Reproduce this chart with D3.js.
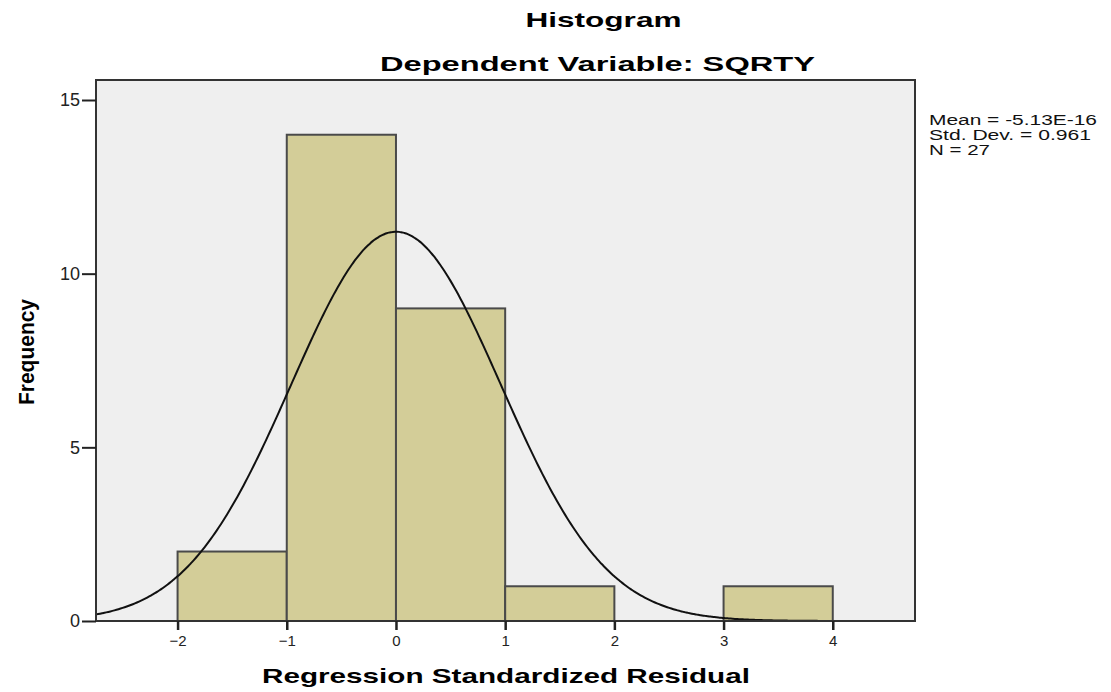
<!DOCTYPE html>
<html>
<head>
<meta charset="utf-8">
<script src="https://cdn.jsdelivr.net/npm/d3@7"></script>
<style>
  body { margin: 0; background: #fff; }
  svg { display: block; }
  text { font-family: "Liberation Sans", Arial, sans-serif; }
</style>
</head>
<body>
<svg id="chart" width="1111" height="692"></svg>
<script>
// ---- data ----
const binStarts = [-2, -1, 0, 1, 2, 3];
const binEnds   = [-1, 0, 1, 2, 3, 4];
const frequencies = [2, 14, 9, 1, 0, 1];
const xTicks = [-2, -1, 0, 1, 2, 3, 4];
const yTicks = [0, 5, 10, 15];
const statMean = -5.13e-16;
const statSD = 0.961;
const statN = 27;
const statLines = ["Mean = -5.13E-16", "Std. Dev. = 0.961", "N = 27"];
const titleText = "Histogram";
const subtitleText = "Dependent Variable: SQRTY";
const xLabel = "Regression Standardized Residual";
const yLabel = "Frequency";

// ---- layout ----
const svg = d3.select("#chart");
const pLeft = 96, pRight = 915, pTop = 80, pBottom = 621;

const x = d3.scaleLinear().domain([-2.747, 4.753]).range([pLeft, pRight]);
const y = d3.scaleLinear().domain([0, 15]).range([pBottom, 100]);

// plot background
svg.append("rect")
  .attr("x", pLeft).attr("y", pTop)
  .attr("width", pRight - pLeft).attr("height", pBottom - pTop)
  .attr("fill", "#efefef");

// bars
const bins = binStarts.map((s, i) => ({ x0: s, x1: binEnds[i], f: frequencies[i] }))
  .filter(d => d.f > 0);
svg.append("g").selectAll("rect").data(bins).join("rect")
  .attr("x", d => x(d.x0))
  .attr("y", d => y(d.f))
  .attr("width", d => x(d.x1) - x(d.x0))
  .attr("height", d => y(0) - y(d.f))
  .attr("fill", "#d3cd98")
  .attr("stroke", "#4a4a4a")
  .attr("stroke-width", 2);

// normal curve (from displayed statistics)
const binWidth = 1;
const xs = d3.range(0, 401).map(i => -2.747 + i * (7.5 / 400));
const curve = xs.map(v => [v, statN * binWidth / (statSD * Math.sqrt(2 * Math.PI)) *
  Math.exp(-0.5 * Math.pow((v - statMean) / statSD, 2))]);
svg.append("path")
  .datum(curve)
  .attr("d", d3.line().x(d => x(d[0])).y(d => y(d[1])).curve(d3.curveBasis))
  .attr("fill", "none")
  .attr("stroke", "#111")
  .attr("stroke-width", 2);

// frame
svg.append("rect")
  .attr("x", pLeft).attr("y", pTop)
  .attr("width", pRight - pLeft).attr("height", pBottom - pTop)
  .attr("fill", "none")
  .attr("stroke", "#333").attr("stroke-width", 2);

// y axis
const yAxis = d3.axisLeft(y).tickValues(yTicks).tickSize(14).tickPadding(2);
const gy = svg.append("g").attr("transform", `translate(${pLeft},0)`).call(yAxis);
gy.select(".domain").remove();
gy.selectAll("line").attr("stroke", "#222").attr("stroke-width", 2);
gy.selectAll("text").attr("font-size", 18).attr("fill", "#222")
  .style("font-family", '"Liberation Sans", Arial, sans-serif');

// x axis
const xAxis = d3.axisBottom(x).tickValues(xTicks).tickSize(9).tickPadding(5);
const gx = svg.append("g").attr("transform", `translate(0,${pBottom})`).call(xAxis);
gx.select(".domain").remove();
gx.selectAll("line").attr("stroke", "#222").attr("stroke-width", 2.5);
gx.selectAll("text").attr("font-size", 15).attr("fill", "#222")
  .style("font-family", '"Liberation Sans", Arial, sans-serif');

// titles
svg.append("text").attr("x", 603.5).attr("y", 27)
  .attr("text-anchor", "middle").attr("font-size", 21).attr("font-weight", "bold")
  .attr("textLength", 156).attr("lengthAdjust", "spacingAndGlyphs")
  .text(titleText);
svg.append("text").attr("x", 597.5).attr("y", 71)
  .attr("text-anchor", "middle").attr("font-size", 21).attr("font-weight", "bold")
  .attr("textLength", 435).attr("lengthAdjust", "spacingAndGlyphs")
  .text(subtitleText);

// axis labels
svg.append("text").attr("x", 506).attr("y", 683)
  .attr("text-anchor", "middle").attr("font-size", 21).attr("font-weight", "bold")
  .attr("textLength", 488).attr("lengthAdjust", "spacingAndGlyphs")
  .text(xLabel);
svg.append("text")
  .attr("transform", "translate(34,352) rotate(-90)")
  .attr("text-anchor", "middle").attr("font-size", 22).attr("font-weight", "bold")
  .attr("textLength", 106).attr("lengthAdjust", "spacingAndGlyphs")
  .text(yLabel);

// stats box
const statWidths = [168, 162, 61];
svg.append("g").selectAll("text").data(statLines).join("text")
  .attr("x", 929).attr("y", (d, i) => 125 + i * 15)
  .attr("font-size", 14)
  .attr("fill", "#111")
  .attr("textLength", (d, i) => statWidths[i])
  .attr("lengthAdjust", "spacingAndGlyphs")
  .text(d => d);
</script>
</body>
</html>
